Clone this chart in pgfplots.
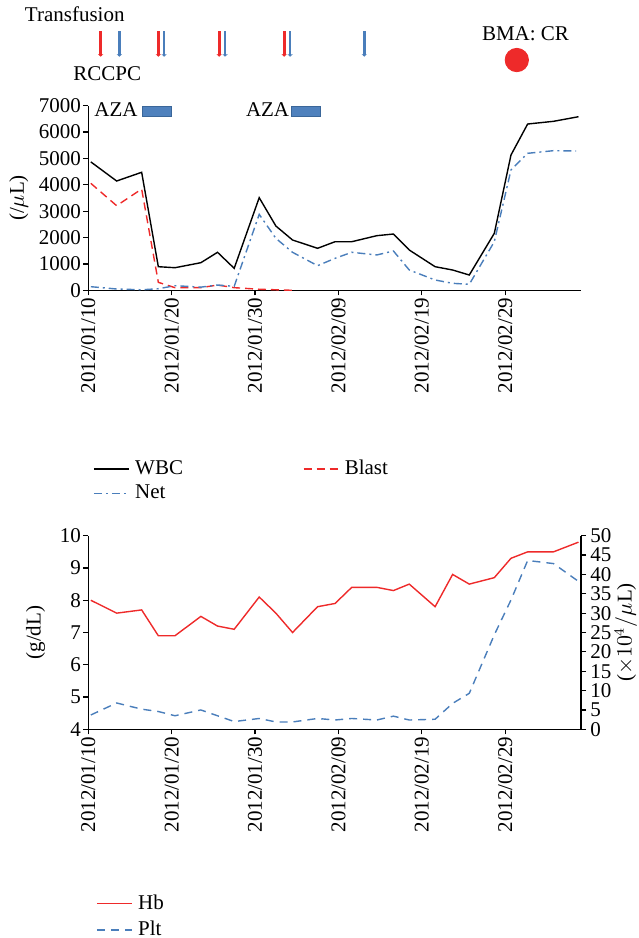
\documentclass[border=0pt]{standalone}
\usepackage{pgfplots}
\pgfplotsset{compat=1.18}
\usepackage{fontspec}
\setmainfont{Liberation Serif}
\usetikzlibrary{arrows.meta}
\definecolor{cred}{HTML}{EE2A2A}
\definecolor{cblue}{HTML}{4A7EBB}
\definecolor{boxblue}{HTML}{4F81BD}
\definecolor{boxedge}{HTML}{3A6699}
\newcommand{\fs}{\fontsize{10.5}{12.6}\selectfont}
\begin{document}
\begin{tikzpicture}[font=\fs]
\path[use as bounding box] (0,0) rectangle (319pt,-469pt);
\pgfplotsset{
  myaxis/.style={scale only axis, width=246.35pt, xmin=0, xmax=59.1,
   axis line style={-, line width=0.6pt}, tick style={line width=0.6pt, black},
   tick align=outside, major tick length=2.5pt,
   xtick={0,10,20,30,40,50},
   xticklabels={2012/01/10,2012/01/20,2012/01/30,2012/02/09,2012/02/19,2012/02/29},
   xticklabel style={rotate=90, anchor=east, inner sep=1pt},
   yticklabel style={inner sep=1pt},
   /pgf/number format/assume math mode=true,
   tick label style={font=\fs},
   label style={font=\fs},
   legend style={font=\fs, draw=none, fill=none},
   legend image code/.code={\draw[mark repeat=2,mark phase=2,##1] plot coordinates {(0pt,0pt) (8.75pt,0pt) (17.5pt,0pt)};},
   clip=false,
  }
}
% ---------- top panel ----------
\begin{axis}[myaxis, at={(44.15pt,-145.15pt)}, anchor=south west, height=92.3pt,
  ymin=0, ymax=7000, ytick={0,1000,...,7000}, scaled y ticks=false,
  yticklabel style={/pgf/number format/.cd, fixed, set thousands separator={}},
  axis x line*=bottom, axis y line*=left,
  ylabel={(/$\mu$L)}, ylabel style={at={(axis description cs:-0.141,0.5)}, anchor=center},
  legend columns=2, legend cell align=left,
  legend style={at={(axis description cs:-0.003,-0.884)}, anchor=north west,
    row sep=1.2pt,
    nodes={inner ysep=1.2pt, inner xsep=2.8pt, text width=81pt, align=left}}]
\addplot[black, line width=0.7pt] coordinates {(0.3,4870)(3.4,4145)(6.4,4475)(8.4,895)(10.4,857)(13.5,1047)(15.5,1441)(17.5,834)(20.5,3512)(22.5,2438)(24.5,1907)(27.5,1593)(29.6,1843)(31.6,1843)(34.6,2071)(36.6,2135)(38.5,1528)(41.6,895)(43.7,770)(45.7,580)(48.7,2160)(50.7,5131)(52.7,6306)(55.8,6408)(58.8,6583)};
\addplot[cred, line width=0.7pt, dash pattern=on 4pt off 2.5pt] coordinates {(0.3,4057)(3.4,3208)(6.4,3841)(8.4,303)(10.4,100)(13.5,100)(15.5,200)(17.5,100)(20.5,40)(22.5,20)(24.5,0)};
\addplot[cblue, line width=0.7pt, dash pattern=on 4pt off 2pt on 1pt off 2pt] coordinates {(0.3,137)(3.4,50)(6.4,20)(8.4,60)(10.4,175)(13.5,120)(15.5,200)(17.5,150)(20.5,2880)(22.5,1970)(24.5,1441)(27.5,934)(29.6,1213)(31.6,1441)(34.6,1340)(36.6,1491)(38.5,770)(41.6,391)(43.7,265)(45.7,227)(48.7,1843)(50.7,4562)(52.7,5195)(55.8,5295)(58.5,5283)};
\legend{WBC,Blast,Net}
% transfusion events
\foreach \d in {1.49,8.4,15.7,23.5}{
  \edef\tmp{\noexpand\addplot[cred, line width=1.4pt, -{Stealth[length=1.3pt,width=2.6pt]}, forget plot] coordinates {(\d,9833)(\d,8858)};}\tmp}
\foreach \d in {3.72,9.09,16.4,24.2,33.1}{
  \edef\tmp{\noexpand\addplot[cblue, line width=1.4pt, -{Stealth[length=1.3pt,width=2.6pt]}, forget plot] coordinates {(\d,9833)(\d,8858)};}\tmp}
% BMA
\addplot[only marks, mark=*, mark size=5.85pt, color=cred, forget plot] coordinates {(51.4,8733)};
% AZA boxes
\addplot[fill=boxblue, draw=boxedge, line width=0.4pt, forget plot] coordinates {(6.53,6583)(9.93,6583)(9.93,6963)(6.53,6963)} -- cycle;
\addplot[fill=boxblue, draw=boxedge, line width=0.4pt, forget plot] coordinates {(24.4,6583)(27.9,6583)(27.9,6963)(24.4,6963)} -- cycle;
\end{axis}
\node[anchor=base west, inner sep=0] at (12.3pt,-10.5pt) {Transfusion};
\node[anchor=base west, inner sep=0] at (36.5pt,-40pt) {RCCPC};
\node[anchor=base west, inner sep=0] at (240.8pt,-20pt) {BMA: CR};
\node[anchor=base west, inner sep=0] at (47pt,-58.35pt) {AZA};
\node[anchor=base west, inner sep=0] at (122.8pt,-58.35pt) {AZA};
% ---------- bottom panel ----------
\begin{axis}[myaxis, at={(44.15pt,-364.65pt)}, anchor=south west, height=96.8pt,
  ymin=4, ymax=10, ytick={4,5,...,10},
  axis x line*=bottom, axis y line*=left,
  ylabel={(g/dL)}, ylabel style={at={(axis description cs:-0.107,0.5)}, anchor=center}]
\addplot[cred, line width=0.7pt] coordinates {(0.3,8.0)(3.4,7.6)(6.4,7.7)(8.4,6.9)(10.4,6.9)(13.5,7.5)(15.5,7.2)(17.5,7.1)(20.5,8.1)(22.5,7.6)(24.5,7.0)(27.5,7.8)(29.6,7.9)(31.6,8.4)(34.6,8.4)(36.6,8.3)(38.5,8.5)(41.6,7.8)(43.7,8.8)(45.7,8.5)(48.7,8.7)(50.7,9.3)(52.7,9.5)(55.8,9.5)(58.8,9.8)};
\end{axis}
\begin{axis}[myaxis, at={(44.15pt,-364.65pt)}, anchor=south west, height=96.8pt,
  ymin=0, ymax=50, ytick={0,5,...,50}, xtick=\empty,
  axis x line=none, axis y line*=right,
  yticklabel style={inner sep=2pt},
  ylabel={($\times10^4/\mu$L)}, ylabel style={at={(axis description cs:1.091,0.5)}, anchor=center},
  legend cell align=left,
  legend style={at={(axis description cs:0.003,-0.815)}, anchor=north west,
    row sep=1.5pt, nodes={inner ysep=1.5pt, inner xsep=2.8pt}}]
\addlegendimage{cred, line width=0.7pt}
\addlegendentry{Hb}
\addplot[cblue, line width=0.7pt, dash pattern=on 4pt off 3pt] coordinates {(0.3,3.7)(3.4,6.8)(6.4,5.2)(8.4,4.6)(10.4,3.5)(13.5,5.0)(15.5,3.5)(17.5,2.0)(20.5,2.8)(22.5,1.9)(24.5,1.9)(27.5,2.8)(29.6,2.4)(31.6,2.8)(34.6,2.4)(36.6,3.4)(38.5,2.4)(41.6,2.6)(43.7,6.7)(45.7,9.3)(48.7,24.4)(50.7,33.4)(52.7,43.6)(55.8,42.8)(58.8,38.2)};
\addlegendentry{Plt}
\end{axis}
\end{tikzpicture}
\end{document}
